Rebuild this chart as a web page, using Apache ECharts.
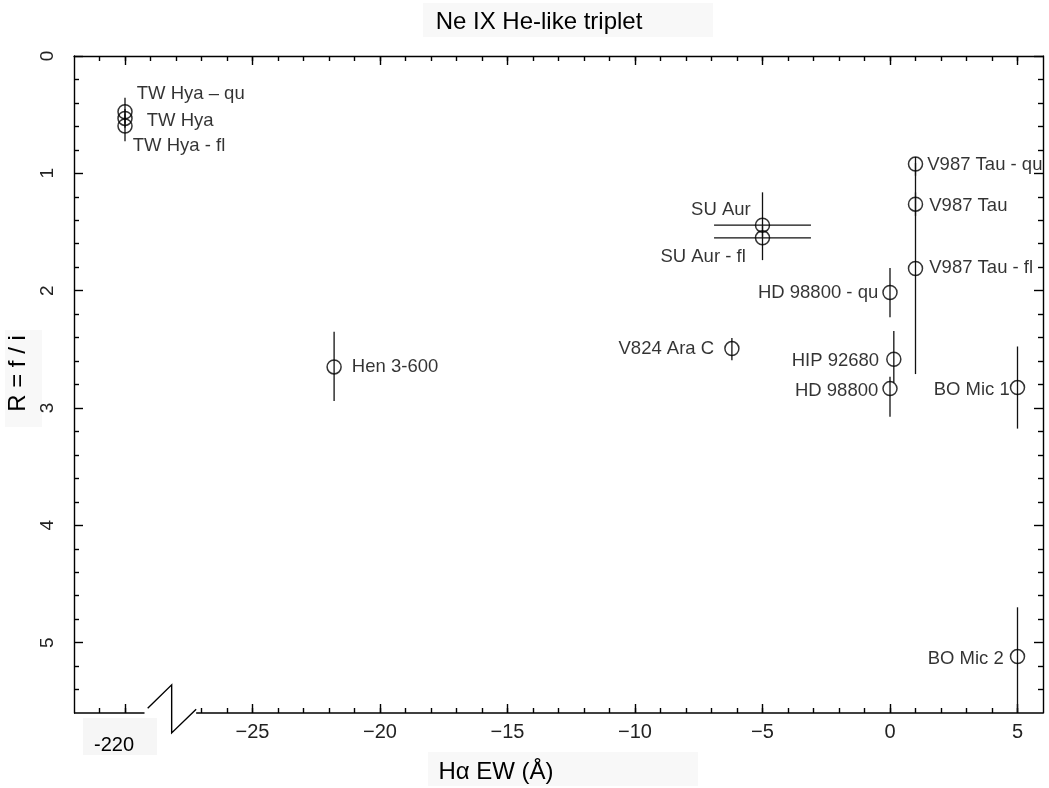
<!DOCTYPE html>
<html style="height: 100%">
<head>
  <meta charset="utf-8">
  <title>Ne IX He-like triplet</title>
</head>
<body style="height: 100%; width: 100%; margin: 0; background: #fff">
<div id="chart" style="width: 1049px; height: 788px"></div>
<script type="text/javascript" src="https://cdn.jsdelivr.net/npm/echarts@6/dist/echarts.min.js"></script>
<script type="text/javascript">
// star names and measured values (Ha EW in Angstrom, R = f/i)
var names = ['TW Hya \u2013 qu', 'TW Hya', 'TW Hya - fl', 'Hen 3-600', 'V824 Ara C', 'SU Aur', 'SU Aur - fl',
  'HD 98800 - qu', 'HIP 92680', 'HD 98800', 'V987 Tau - qu', 'V987 Tau', 'V987 Tau - fl', 'BO Mic 1', 'BO Mic 2'];
var ewHalpha = [-220, -220, -220, -21.8, -6.2, -5, -5, 0, 0.15, 0, 1, 1, 1, 5, 5];
var ewErr    = [0, 0, 0, 0, 0, 1.9, 1.9, 0, 0, 0, 0, 0, 0, 0, 0];
var ratioR   = [0.475, 0.532, 0.597, 2.65, 2.494, 1.442, 1.55, 2.016, 2.585, 2.835, 0.921, 1.263, 1.811, 2.826, 5.119];
var rErrLow  = [0.12, 0.08, 0.1, 0.3, 0.09, 0.28, 0.1, 0.21, 0.24, 0.1, 0.06, 0.1, 0.9, 0.35, 0.42];
var rErrHigh = [0.1, 0.08, 0.13, 0.29, 0.1, 0.1, 0.19, 0.21, 0.2, 0.24, 0.1, 0.1, 0.9, 0.35, 0.48];

// tick values
var xMajorTicks = [-30, -25, -20, -15, -10, -5, 0, 5];
var xMinorTicks = [-31, -30, -27, -26, -25, -24, -23, -22, -21, -20, -19, -18, -17, -16, -15, -14, -13, -12, -11,
  -10, -9, -8, -7, -6, -5, -4, -3, -2, -1, 0, 1, 2, 3, 4, 5];
var xTopTicks = [-31, -30, -29, -28, -27, -26, -25, -24, -23, -22, -21, -20, -19, -18, -17, -16, -15, -14, -13, -12, -11,
  -10, -9, -8, -7, -6, -5, -4, -3, -2, -1, 0, 1, 2, 3, 4, 5];
var yMajorTicks = [0, 1, 2, 3, 4, 5];
var yMinorTicks = [0.2, 0.4, 0.6, 0.8, 1.2, 1.4, 1.6, 1.8, 2.2, 2.4, 2.6, 2.8, 3.2, 3.4, 3.6, 3.8,
  4.2, 4.4, 4.6, 4.8, 5.2, 5.4];

// broken axis: the -220 group is drawn in the slot of -30
var breakShift = 190;
function brokenX(v) { return v < -100 ? v + breakShift : v; }

// bottom axis line pieces and the break mark (display coordinates)
var axisPieces = [
  [[-32, 5.6], [-29.235, 5.6]],
  [[-27.21, 5.6], [6, 5.6]],
  [[-29.11, 5.56], [-28.17, 5.36], [-28.17, 5.77], [-27.21, 5.567]]
];

// label placement: [side, distance, dy]
var labelPlace = {
  'TW Hya \u2013 qu': ['right', 4, -18],
  'TW Hya': ['right', 14, 2],
  'TW Hya - fl': ['right', 0, 20],
  'Hen 3-600': ['right', 10, 0],
  'V824 Ara C': ['left', 10, 0],
  'SU Aur': ['left', 4, -15],
  'SU Aur - fl': ['left', 9, 19],
  'HD 98800 - qu': ['left', 4, 0],
  'HIP 92680': ['left', 7, 2],
  'HD 98800': ['left', 4, 2],
  'V987 Tau - qu': ['right', 4, 1],
  'V987 Tau': ['right', 6, 2],
  'V987 Tau - fl': ['right', 6, -1],
  'BO Mic 1': ['left', 0, 2],
  'BO Mic 2': ['left', 6, 2]
};

var FONT = 'Liberation Sans, Arial, sans-serif';

var points = names.map(function (n, i) {
  var p = labelPlace[n];
  return {
    name: n,
    value: [brokenX(ewHalpha[i]), ratioR[i]],
    label: {
      show: true, position: p[0], distance: p[1], offset: [0, p[2]], formatter: '{b}',
      fontFamily: FONT, fontSize: 18.5, color: '#000'
    }
  };
});
var bars = names.map(function (n, i) {
  return [brokenX(ewHalpha[i]), ratioR[i], ratioR[i] - rErrLow[i], ratioR[i] + rErrHigh[i], ewErr[i]];
});

var dom = document.getElementById('chart');
var myChart = echarts.init(dom, null, { renderer: 'canvas' });

function xLabel(v) {
  if (v === -30) return '{brk|-220}';
  return v < 0 ? '\u2212' + (-v) : String(v);
}

var xBase = { type: 'value', min: -32, max: 6, gridIndex: 0, splitLine: { show: false } };
var yBase = { type: 'value', min: 0, max: 5.6, inverse: true, splitLine: { show: false } };
var lineStyle = { color: '#000', width: 1.4 };

var option = {
  animation: false,
  backgroundColor: '#fff',
  title: {
    text: 'Ne IX He-like triplet',
    left: 534,
    textAlign: 'center',
    top: 5,
    textStyle: { fontFamily: FONT, fontSize: 24, fontWeight: 'normal', color: '#000' }
  },
  grid: { left: 74, right: 6, top: 56, bottom: 75, containLabel: false, outerBoundsMode: 'none' },
  graphic: [
    { type: 'rect', z: -10, shape: { x: 423, y: 3, width: 290, height: 34 }, style: { fill: '#f8f8f8' } },
    { type: 'rect', z: -10, shape: { x: 428, y: 752, width: 270, height: 34 }, style: { fill: '#f8f8f8' } },
    { type: 'rect', z: -10, shape: { x: 5, y: 330, width: 37, height: 97 }, style: { fill: '#f8f8f8' } },
    { type: 'rect', z: -10, shape: { x: 83, y: 718, width: 74, height: 37 }, style: { fill: '#f6f6f6' } }
  ],
  xAxis: [
    Object.assign({}, xBase, {
      position: 'bottom',
      name: 'H\u03b1 EW (\u00c5)',
      nameLocation: 'middle',
      nameGap: 45,
      nameTextStyle: { fontFamily: FONT, fontSize: 24, color: '#000', padding: [0, 125, 0, 0] },
      axisLine: { show: false, onZero: false },
      axisTick: { show: true, inside: true, length: 5, customValues: xMinorTicks, lineStyle: lineStyle },
      axisLabel: {
        show: true, customValues: xMajorTicks, margin: 9, formatter: xLabel,
        fontFamily: FONT, fontSize: 20, color: '#222',
        rich: { brk: { fontFamily: FONT, fontSize: 20, color: '#000', padding: [13, 22, 0, 0] } }
      }
    }),
    Object.assign({}, xBase, {
      position: 'bottom',
      axisLine: { show: false, onZero: false },
      axisTick: { show: true, inside: true, length: 9, customValues: xMajorTicks, lineStyle: lineStyle },
      axisLabel: { show: false }
    }),
    Object.assign({}, xBase, {
      position: 'top',
      axisLine: { show: true, onZero: false, lineStyle: lineStyle },
      axisTick: { show: true, inside: true, length: 5, customValues: xTopTicks, lineStyle: lineStyle },
      axisLabel: { show: false }
    }),
    Object.assign({}, xBase, {
      position: 'top',
      axisLine: { show: false, onZero: false },
      axisTick: { show: true, inside: true, length: 9, customValues: xMajorTicks, lineStyle: lineStyle },
      axisLabel: { show: false }
    })
  ],
  yAxis: [
    Object.assign({}, yBase, {
      position: 'left',
      name: 'R = f / i',
      nameLocation: 'middle',
      nameRotate: 90,
      nameGap: 36,
      nameTextStyle: { fontFamily: FONT, fontSize: 24, color: '#000', padding: [0, 0, 0, 22] },
      axisLine: { show: true, onZero: false, lineStyle: lineStyle },
      axisTick: { show: true, inside: true, length: 9, customValues: yMajorTicks, lineStyle: lineStyle },
      axisLabel: {
        show: true, customValues: yMajorTicks, rotate: 90, margin: 17,
        fontFamily: FONT, fontSize: 19, color: '#222'
      }
    }),
    Object.assign({}, yBase, {
      position: 'left',
      axisLine: { show: false, onZero: false },
      axisTick: { show: true, inside: true, length: 5, customValues: yMinorTicks, lineStyle: lineStyle },
      axisLabel: { show: false }
    }),
    Object.assign({}, yBase, {
      position: 'right',
      axisLine: { show: true, onZero: false, lineStyle: lineStyle },
      axisTick: { show: true, inside: true, length: 9, customValues: yMajorTicks, lineStyle: lineStyle },
      axisLabel: { show: false }
    }),
    Object.assign({}, yBase, {
      position: 'right',
      axisLine: { show: false, onZero: false },
      axisTick: { show: true, inside: true, length: 5, customValues: yMinorTicks, lineStyle: lineStyle },
      axisLabel: { show: false }
    })
  ],
  series: [
    {
      // error bars
      type: 'custom',
      xAxisIndex: 0,
      yAxisIndex: 0,
      silent: true,
      data: bars,
      renderItem: function (params, api) {
        var x = api.value(0), y = api.value(1), lo = api.value(2), hi = api.value(3), xe = api.value(4);
        var a = api.coord([x, lo]), b = api.coord([x, hi]);
        var kids = [{
          type: 'line',
          shape: { x1: a[0], y1: a[1], x2: b[0], y2: b[1] },
          style: { stroke: '#111', lineWidth: 1.3 }
        }];
        if (xe > 0) {
          var c = api.coord([x - xe, y]), d = api.coord([x + xe, y]);
          kids.push({
            type: 'line',
            shape: { x1: c[0], y1: c[1], x2: d[0], y2: d[1] },
            style: { stroke: '#111', lineWidth: 1.3 }
          });
        }
        return { type: 'group', children: kids };
      }
    },
    {
      // bottom axis line with the break mark
      type: 'custom',
      xAxisIndex: 0,
      yAxisIndex: 0,
      silent: true,
      clip: false,
      data: [0],
      renderItem: function (params, api) {
        return {
          type: 'group',
          children: axisPieces.map(function (piece) {
            return {
              type: 'polyline',
              shape: { points: piece.map(function (pt) { return api.coord(pt); }) },
              style: { stroke: '#000', lineWidth: 1.4, fill: null }
            };
          })
        };
      }
    },
    {
      type: 'scatter',
      xAxisIndex: 0,
      yAxisIndex: 0,
      symbol: 'circle',
      symbolSize: 14,
      itemStyle: { color: 'rgba(0,0,0,0)', borderColor: '#000', borderWidth: 1.5 },
      label: { fontFamily: FONT, fontSize: 18.5, color: '#000' },
      data: points
    }
  ]
};

myChart.setOption(option);
</script>
</body>
</html>
